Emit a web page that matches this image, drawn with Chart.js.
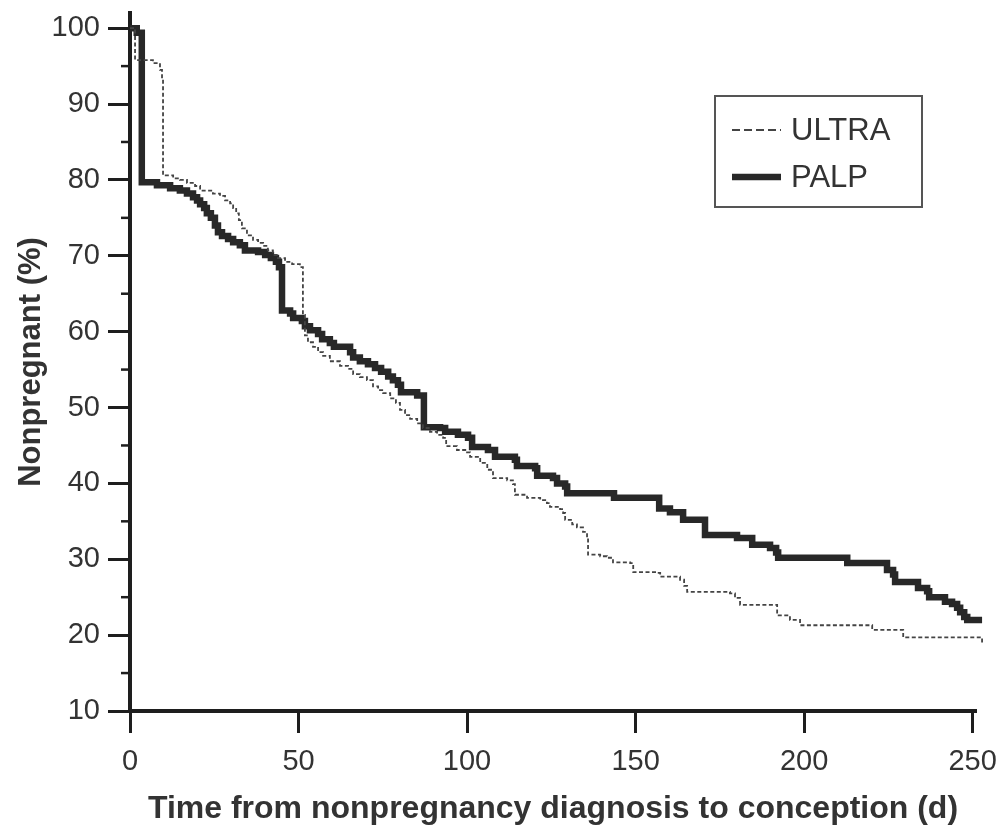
<!DOCTYPE html>
<html>
<head>
<meta charset="utf-8">
<script src="https://cdn.jsdelivr.net/npm/chart.js@4/dist/chart.umd.min.js"></script>
<style>
    body { margin: 0; background: #fff; }
    canvas { display: block; }
</style>
</head>
<body>
<canvas id="kmChart" width="1002" height="830"></canvas>
<script>
"use strict";

const seriesNames = ['ULTRA', 'PALP']

const ultraDays = [0, 1.5, 6.8, 8.9, 9.5, 9.8, 12.8, 14.8, 16.9, 19.3, 20.8, 24.6, 26.7, 28.2, 29.7, 30.6, 31.5, 32.3, 33.2, 34.7,
    36.5, 38, 39.5, 40.9, 42.4, 43.9, 46, 48.1, 50.4, 51.3, 51.9, 52.8, 54.3, 55.8, 57.3, 59.3, 62.3, 64.7, 66.2, 68.2,
    70.3, 72.1, 73.6, 75.1, 77.2, 78.9, 80.1, 81.6, 83.1, 85.2, 86.9, 89, 91.1, 92.9, 93.8, 97, 100, 100.9, 103.9, 106,
    107.7, 111.9, 113.6, 114.2, 117.8, 121.7, 123.7, 124.6, 127.6, 128.5, 129.1, 131.2, 132.6, 134.4, 135.6, 135.9, 139.5, 141.5, 143.3, 148.4,
    149.3, 156.4, 157.3, 163.2, 164.4, 165.3, 178, 179.5, 181, 192, 195.8, 198.8, 220.2, 229.4, 252.8]
const ultraPct = [100, 95.8, 95.4, 94.5, 93.4, 80.6, 80.2, 80.0, 79.6, 79.2, 78.6, 78.2, 77.9, 77.3, 76.9, 76.3, 75.6, 74.7, 73.6, 72.7,
    72.1, 71.7, 71.3, 70.7, 70.1, 69.7, 69.2, 68.9, 68.5, 62.2, 59.5, 58.6, 58.0, 57.3, 56.8, 56.1, 55.5, 55.1, 54.4, 54.0,
    53.6, 52.8, 52.3, 51.9, 51.2, 50.6, 49.7, 49.0, 48.5, 47.9, 47.3, 46.8, 46.4, 46.0, 44.9, 44.4, 44.1, 43.5, 42.7, 41.8,
    40.7, 40.4, 39.9, 38.5, 38.1, 37.8, 37.4, 36.9, 36.6, 36.1, 35.2, 34.6, 34.2, 33.6, 32.9, 30.6, 30.4, 30.2, 29.6, 29.5,
    28.3, 28.2, 27.7, 27.3, 26.5, 25.7, 25.5, 24.9, 24.0, 22.6, 22.0, 21.3, 20.7, 19.7, 18.7]

const palpDays = [0, 2, 3.5, 8, 11.9, 14.8, 16.9, 18.7, 19.9, 20.8, 22, 22.8, 24, 25.2, 26.1, 27.3, 29.1, 30.6, 32.6, 34.1,
    38, 40.1, 41.8, 43.3, 44.2, 45.1, 47.5, 48.4, 51, 51.9, 53.4, 55.8, 57, 59.3, 60.5, 65.3, 66.2, 68.2, 70.6, 72.7,
    74.5, 76.6, 78, 79.5, 80.4, 85.2, 87.2, 92, 93.5, 97.3, 100.3, 101.5, 106.2, 108.3, 114.2, 114.8, 120.2, 120.8, 125.5, 126.7,
    129.1, 129.7, 143.6, 157, 160.2, 164.1, 170.6, 180.1, 184.6, 189.9, 191.7, 192.3, 212.8, 224.6, 226.4, 227, 233.8, 236.5, 237.1, 241.8,
    243.9, 245.4, 246.3, 247.5, 248.4, 252.8]
const palpPct = [100, 99.4, 79.7, 79.3, 78.9, 78.6, 78.2, 77.7, 77.3, 76.8, 76.3, 75.6, 75.0, 74.0, 73.1, 72.6, 72.2, 71.8, 71.4, 70.7,
    70.5, 70.1, 69.7, 69.2, 68.5, 62.8, 62.4, 61.8, 61.4, 60.7, 60.2, 59.7, 59.0, 58.5, 58.0, 57.3, 56.6, 56.1, 55.7, 55.2,
    54.7, 54.1, 53.6, 53.0, 52.0, 51.6, 47.4, 47.3, 46.8, 46.4, 46.0, 44.8, 44.4, 43.5, 43.1, 42.3, 42.0, 41.0, 40.7, 40.0,
    39.6, 38.7, 38.1, 36.7, 36.2, 35.2, 33.2, 32.8, 31.9, 31.5, 30.9, 30.2, 29.5, 28.6, 28.0, 27.0, 26.2, 25.8, 25.0, 24.4,
    24.1, 23.6, 23.0, 22.4, 22.0, 22.0]

const xTicks = [0, 50, 100, 150, 200, 250]
const yTicks = [10, 20, 30, 40, 50, 60, 70, 80, 90, 100]
const yMinorTicks = [15, 25, 35, 45, 55, 65, 75, 85, 95]

const toPoints = (days, pct) => days.map((d, i) => ({ x: d, y: pct[i] }))

const inkColor = '#1e1e1e'
const textColor = '#333'
const mainFont = '"Liberation Sans", Arial, sans-serif'

const minorTicksPlugin = {
    id: 'minorTicks',
    afterDraw: chart => {
        const { ctx, chartArea, scales } = chart
        ctx.save()
        ctx.strokeStyle = inkColor
        ctx.lineWidth = 2.5
        yMinorTicks.forEach(v => {
            const y = scales.y.getPixelForValue(v)
            ctx.beginPath()
            ctx.moveTo(chartArea.left - 9, y)
            ctx.lineTo(chartArea.left, y)
            ctx.stroke()
        })
        ctx.restore()
    }
}

const boxLegendPlugin = {
    id: 'boxLegend',
    afterDraw: chart => {
        const { ctx, chartArea } = chart
        const left = chartArea.right - 261
        const top = chartArea.top + 83
        ctx.save()
        ctx.fillStyle = '#fff'
        ctx.fillRect(left, top, 207, 111)
        ctx.strokeStyle = '#555'
        ctx.lineWidth = 2
        ctx.strokeRect(left, top, 207, 111)
        ctx.font = '31px ' + mainFont
        ctx.textBaseline = 'middle'
        chart.data.datasets.forEach((ds, i) => {
            const y = top + 34 + i * 47
            ctx.strokeStyle = ds.borderColor
            ctx.lineWidth = ds.borderDash ? 2 : ds.borderWidth
            ctx.setLineDash(ds.borderDash ? [8, 4] : [])
            ctx.beginPath()
            ctx.moveTo(left + 17, y)
            ctx.lineTo(left + 66, y)
            ctx.stroke()
            ctx.setLineDash([])
            ctx.fillStyle = textColor
            ctx.fillText(ds.label, left + 76, y + 1)
        })
        ctx.restore()
    }
}

const kmChart = new Chart('kmChart', {
    type: 'line',
    data: {
        datasets: [
            {
                label: seriesNames[0],
                data: toPoints(ultraDays, ultraPct),
                borderColor: '#444',
                borderWidth: 1.8,
                borderDash: [4, 2.5],
                stepped: true,
                pointRadius: 0,
                clip: false
            },
            {
                label: seriesNames[1],
                data: toPoints(palpDays, palpPct),
                borderColor: '#282828',
                borderWidth: 6.5,
                borderJoinStyle: 'miter',
                stepped: true,
                pointRadius: 0,
                clip: false
            }
        ]
    },
    options: {
        responsive: false,
        animation: false,
        layout: { padding: { left: 0, top: 13, right: 26, bottom: 0 } },
        plugins: {
            legend: { display: false },
            tooltip: { enabled: false }
        },
        scales: {
            x: {
                type: 'linear',
                min: 0,
                max: 251,
                afterBuildTicks: scale => { scale.ticks = xTicks.map(v => ({ value: v })) },
                afterFit: scale => {
                    scale.height = 119
                    scale.paddingLeft = 0
                    scale.paddingRight = 0
                },
                border: { display: true, color: inkColor, width: 4 },
                grid: { drawOnChartArea: false, drawTicks: true, tickLength: 22, tickWidth: 3, tickColor: inkColor },
                ticks: { color: textColor, padding: 12, maxRotation: 0, font: { family: mainFont, size: 29 } },
                title: {
                    display: true,
                    text: 'Time from nonpregnancy diagnosis to conception (d)',
                    color: textColor,
                    padding: { top: 8, bottom: 2 },
                    font: { family: mainFont, size: 32, weight: 'bold' }
                }
            },
            y: {
                type: 'linear',
                min: 10,
                max: 102,
                afterBuildTicks: scale => { scale.ticks = yTicks.map(v => ({ value: v })) },
                afterFit: scale => {
                    scale.width = 130
                    scale.paddingTop = 0
                    scale.paddingBottom = 0
                },
                border: { display: true, color: inkColor, width: 4 },
                grid: { drawOnChartArea: false, drawTicks: true, tickLength: 22, tickWidth: 3, tickColor: inkColor },
                ticks: { color: textColor, padding: 8, font: { family: mainFont, size: 29 } },
                title: {
                    display: true,
                    text: 'Nonpregnant (%)',
                    color: textColor,
                    padding: { top: 13, bottom: 0 },
                    font: { family: mainFont, size: 31, weight: 'bold' }
                }
            }
        }
    },
    plugins: [minorTicksPlugin, boxLegendPlugin]
});
</script>
</body>
</html>
